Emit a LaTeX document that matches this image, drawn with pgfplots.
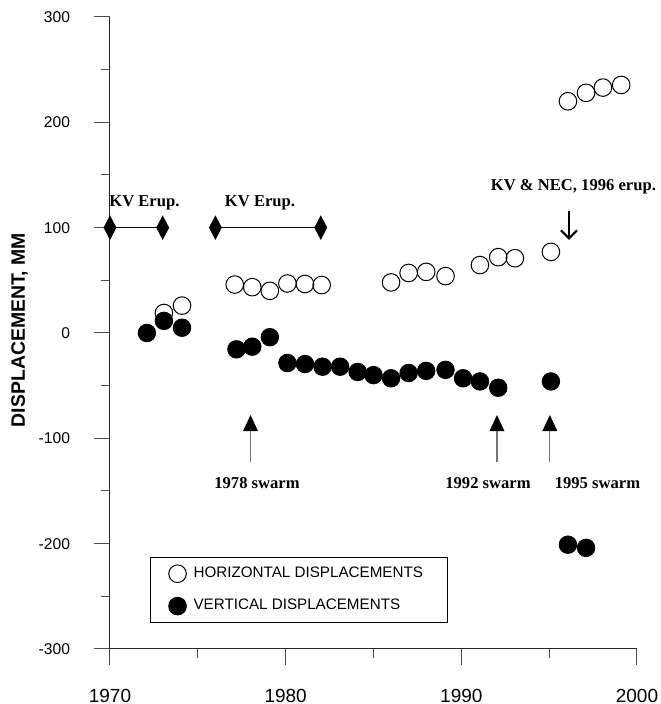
\documentclass[border=0pt]{standalone}
\usepackage{pgfplots}
\pgfplotsset{compat=1.18}
\usepackage{fontspec}
\setmainfont{Liberation Sans}
\newfontfamily\annot{Liberation Serif}
\usetikzlibrary{arrows.meta}
\pgfplotsset{
  myleg/.style={legend image code/.code={\path[draw=none,fill=none] (0pt,-4.4pt) rectangle (13.5pt,4.4pt); \draw[##1] plot coordinates {(9pt,0pt)};}},
}
\tikzset{annotext/.style={font=\annot\bfseries\fontsize{8.3}{10}\selectfont, inner sep=0pt}}
\begin{document}
\begin{tikzpicture}
\begin{axis}[
  scale only axis, width=263.5pt, height=316pt,
  xmin=1970, xmax=2000, ymin=-300, ymax=300,
  axis lines=left, axis line style={-, black!85, line width=0.5pt},
  clip=false,
  xtick={1970,1980,1990,2000}, minor x tick num=1,
  ytick={-300,-200,...,300}, minor y tick num=1,
  tick align=outside, major tick length=8pt, minor tick length=4.5pt,
  tick style={black!70, line width=0.5pt},
  /pgf/number format/1000 sep={},
  /pgf/number format/assume math mode=true,
  xticklabel style={font=\fontsize{9.5}{11}\selectfont, yshift=-8.5pt},
  yticklabel style={font=\fontsize{7.8}{9}\selectfont, xshift=-8.5pt},
  every axis y label/.style={at={(axis description cs:-0.1717,0.5047)}, anchor=center, rotate=90, font=\bfseries\fontsize{9.7}{11}\selectfont},
  ylabel={DISPLACEMENT, MM},
  legend style={at={(axis cs:1972.28,-212.7)}, anchor=north west, draw=black, line width=0.5pt,
    font=\fontsize{7.6}{9}\selectfont, inner xsep=4.5pt, inner ysep=3.7pt,
    nodes={inner sep=0pt}, column sep=3.5pt, row sep=7.4pt},
  legend cell align=left,
]
\addplot[only marks, mark=o, mark size=4.4pt, mark options={black, line width=0.5pt}, myleg] coordinates {
(1973.07,19)(1974.1,26)(1977.1,46)(1978.1,43.5)(1979.1,40)(1980.1,47)(1981.1,46.5)(1982.05,45.5)
(1986.0,48)(1987.0,57)(1988.0,58)(1989.1,54)(1991.06,64.5)(1992.1,72)(1993.05,71)(1995.1,77)
(1996.07,220)(1997.1,228)(1998.06,233)(1999.1,235.5)
};
\addlegendentry{HORIZONTAL DISPLACEMENTS\rule{8pt}{0pt}}
\addplot[only marks, mark=*, mark size=4.4pt, mark options={black, fill=black}, myleg] coordinates {
(1972.1,0)(1973.07,11.5)(1974.1,5)(1977.2,-15.5)(1978.1,-13)(1979.1,-4)(1980.1,-28.5)(1981.1,-29.5)
(1982.1,-32)(1983.1,-32)(1984.1,-37)(1985.0,-40)(1986.0,-43)(1987.0,-38)(1988.0,-36)(1989.1,-35)
(1990.1,-43)(1991.06,-46)(1992.1,-52)(1995.1,-46)(1996.07,-201)(1997.1,-204)
};
\addlegendentry{VERTICAL DISPLACEMENTS\rule[-9.1pt]{0pt}{0pt}}
\addplot[forget plot, black, line width=0.6pt, mark=diamond*, mark size=5.5pt, mark options={xscale=0.7, fill=black}] coordinates {(1970,100)(1973,100)};
\addplot[forget plot, black, line width=0.6pt, mark=diamond*, mark size=5.5pt, mark options={xscale=0.7, fill=black}] coordinates {(1976,100)(1982,100)};
% annotations
\node[annotext] at (axis cs:1971.96,123.4) {KV Erup.};
\node[annotext] at (axis cs:1978.54,123.4) {KV Erup.};
\node[annotext] at (axis cs:1996.38,138.6) {KV \& NEC, 1996 erup.};
\node[annotext] at (axis cs:1978.37,-142.4) {1978 swarm};
\node[annotext] at (axis cs:1991.52,-142.4) {1992 swarm};
\node[annotext] at (axis cs:1997.75,-142.4) {1995 swarm};
\draw[line width=1.1pt, -{Straight Barb[length=4pt,width=8pt]}] (axis cs:1996.13,115.8) -- (axis cs:1996.13,88.3);
\draw[black!55, line width=0.6pt] (axis cs:1978,-122.5) -- (axis cs:1978,-85);
\fill (axis cs:1978,-77.9) -- ++(3.75pt,-8pt) -- ++(-7.5pt,0pt) -- cycle;
\draw[black!55, line width=0.6pt] (axis cs:1992.03,-122.5) -- (axis cs:1992.03,-85);
\fill (axis cs:1992.03,-77.9) -- ++(3.75pt,-8pt) -- ++(-7.5pt,0pt) -- cycle;
\draw[black!55, line width=0.6pt] (axis cs:1995.04,-122.5) -- (axis cs:1995.04,-85);
\fill (axis cs:1995.04,-77.9) -- ++(3.75pt,-8pt) -- ++(-7.5pt,0pt) -- cycle;
\coordinate (bbsw) at (axis cs:1963.738,-352.24);
\coordinate (bbne) at (axis cs:2001.366,316.14);
\end{axis}
\pgfresetboundingbox
\path[use as bounding box] (bbsw) rectangle (bbne);
\end{tikzpicture}
\end{document}
